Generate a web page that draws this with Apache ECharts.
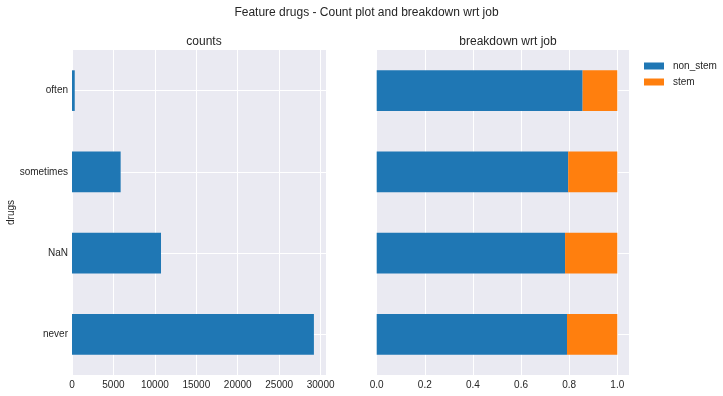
<!DOCTYPE html>
<html>
<head>
<meta charset="utf-8">
<script src="https://cdn.jsdelivr.net/npm/echarts@6/dist/echarts.min.js"></script>
<style>
html,body{margin:0;padding:0;background:#fff;}
#chart{width:723px;height:396px;}
</style>
</head>
<body>
<div id="chart"></div>
<script>
// ---- data ----
const categories = ['never', 'NaN', 'sometimes', 'often']; // bottom to top
const counts = [29190, 10740, 5870, 330];
const nonStem = [0.791, 0.783, 0.796, 0.856];
const stem = [0.209, 0.217, 0.204, 0.144];
const seriesNames = ['non_stem', 'stem'];
const countTicks = [0, 5000, 10000, 15000, 20000, 25000, 30000];
const ratioTicks = [0.0, 0.2, 0.4, 0.6, 0.8, 1.0];

const FONT = '"Liberation Sans", Arial, sans-serif';
const TXT = '#262626';
const BG = '#EAEAF2';
const BLUE = '#1f77b4';
const ORANGE = '#ff7f0e';

const chart = echarts.init(document.getElementById('chart'), null, {renderer: 'canvas'});

const countMax = Math.max(...counts) * 1.05;

const catAxisBase = {
  type: 'category',
  data: categories,
  axisLine: {show: false},
  axisTick: {show: false},
  splitLine: {show: true, alignWithLabel: true, lineStyle: {color: '#fff', width: 1}},
  splitArea: {show: false}
};

const option = {
  backgroundColor: '#fff',
  animation: false,
  textStyle: {fontFamily: FONT, color: TXT},
  title: [
    {text: 'Feature drugs - Count plot and breakdown wrt job', left: 361.5, top: 2, textAlign: 'center',
     textStyle: {fontSize: 12, fontWeight: 'normal', color: TXT, fontFamily: FONT}},
    {text: 'counts', left: 199, top: 31, textAlign: 'center',
     textStyle: {fontSize: 12, fontWeight: 'normal', color: TXT, fontFamily: FONT}},
    {text: 'breakdown wrt job', left: 503, top: 31, textAlign: 'center',
     textStyle: {fontSize: 12, fontWeight: 'normal', color: TXT, fontFamily: FONT}}
  ],
  legend: {
    orient: 'vertical',
    left: 639,
    top: 55,
    itemWidth: 20,
    itemHeight: 7,
    itemGap: 4,
    icon: 'rect',
    data: seriesNames,
    textStyle: {fontSize: 10, color: TXT, fontFamily: FONT, lineHeight: 12, padding: [0, 0, 0, 4]}
  },
  grid: [
    {left: 72, top: 50, width: 254, height: 325, backgroundColor: BG, show: true, borderWidth: 0},
    {left: 376.7, top: 50, width: 252.6, height: 325, backgroundColor: BG, show: true, borderWidth: 0}
  ],
  xAxis: [
    {
      type: 'value', gridIndex: 0, min: 0, max: countMax, interval: 5000,
      axisLine: {show: false}, axisTick: {show: false},
      splitLine: {show: true, lineStyle: {color: '#fff', width: 1}},
      axisLabel: {fontSize: 10, color: TXT, fontFamily: FONT, margin: 5,
        formatter: v => countTicks.includes(v) ? String(v) : ''}
    },
    {
      type: 'value', gridIndex: 1, min: 0, max: 1.05, interval: 0.2,
      axisLine: {show: false}, axisTick: {show: false},
      splitLine: {show: true, lineStyle: {color: '#fff', width: 1}},
      axisLabel: {fontSize: 10, color: TXT, fontFamily: FONT, margin: 5,
        formatter: v => ratioTicks.some(t => Math.abs(t - v) < 1e-9) ? v.toFixed(1) : ''}
    }
  ],
  yAxis: [
    Object.assign({}, catAxisBase, {
      gridIndex: 0,
      name: 'drugs', nameLocation: 'middle', nameGap: 56, nameRotate: 90,
      nameTextStyle: {fontSize: 10, color: TXT, fontFamily: FONT},
      axisLabel: {fontSize: 10, color: TXT, fontFamily: FONT, margin: 4}
    }),
    Object.assign({}, catAxisBase, {
      gridIndex: 1,
      axisLabel: {show: false}
    })
  ],
  series: [
    {
      name: 'counts', type: 'bar', xAxisIndex: 0, yAxisIndex: 0,
      data: counts, barWidth: '50%', itemStyle: {color: BLUE}
    },
    {
      name: seriesNames[0], type: 'bar', xAxisIndex: 1, yAxisIndex: 1, stack: 'job',
      data: nonStem, barWidth: '50%', itemStyle: {color: BLUE}
    },
    {
      name: seriesNames[1], type: 'bar', xAxisIndex: 1, yAxisIndex: 1, stack: 'job',
      data: stem, barWidth: '50%', itemStyle: {color: ORANGE}
    }
  ]
};

chart.setOption(option);
</script>
</body>
</html>
